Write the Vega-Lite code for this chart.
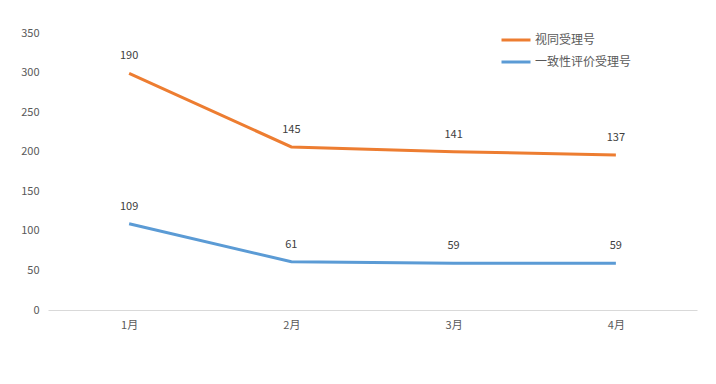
{
  "$schema": "https://vega.github.io/schema/vega-lite/v6.json",
  "width": 649,
  "height": 277,
  "autosize": {"type": "none"},
  "padding": {"left": 48, "top": 33, "right": 19, "bottom": 74},
  "background": "white",
  "config": {
    "font": "Noto Sans CJK SC",
    "view": {"stroke": null}
  },
  "data": {
    "values": [
      {"month": "1月", "series": "一致性评价受理号", "value": 109, "o": 1},
      {"month": "2月", "series": "一致性评价受理号", "value": 61, "o": 1},
      {"month": "3月", "series": "一致性评价受理号", "value": 59, "o": 1},
      {"month": "4月", "series": "一致性评价受理号", "value": 59, "o": 1},
      {"month": "1月", "series": "视同受理号", "value": 190, "o": 2},
      {"month": "2月", "series": "视同受理号", "value": 145, "o": 2},
      {"month": "3月", "series": "视同受理号", "value": 141, "o": 2},
      {"month": "4月", "series": "视同受理号", "value": 137, "o": 2}
    ]
  },
  "encoding": {
    "x": {
      "field": "month", "type": "nominal", "sort": null,
      "scale": {"paddingInner": 0, "paddingOuter": 0},
      "axis": {
        "title": null, "labelAngle": 0, "ticks": false,
        "domainColor": "#D9D9D9", "domainWidth": 1,
        "labelColor": "#595959", "labelFontSize": 11, "labelPadding": 9
      }
    },
    "y": {
      "field": "value", "type": "quantitative", "stack": "zero",
      "scale": {"domain": [0, 350]},
      "axis": {
        "title": null, "values": [0, 50, 100, 150, 200, 250, 300, 350],
        "grid": false, "domain": false, "ticks": false,
        "labelColor": "#595959", "labelFontSize": 11, "labelPadding": 9
      }
    },
    "order": {"field": "o", "type": "quantitative"},
    "color": {
      "field": "series", "type": "nominal",
      "scale": {"domain": ["视同受理号", "一致性评价受理号"], "range": ["#ED7D31", "#5B9BD5"]},
      "legend": {
        "title": null, "orient": "none", "legendX": 452, "legendY": -9,
        "symbolType": "stroke", "symbolSize": 841, "symbolStrokeWidth": 3,
        "labelFontSize": 12, "labelColor": "#595959", "rowPadding": -11, "labelOffset": 3
      }
    }
  },
  "layer": [
    {"mark": {"type": "line", "strokeWidth": 3}},
    {
      "mark": {"type": "text", "dy": -17, "fontSize": 11, "color": "#404040"},
      "encoding": {
        "text": {"field": "value", "type": "quantitative"},
        "color": {"value": "#404040"}
      }
    }
  ]
}
